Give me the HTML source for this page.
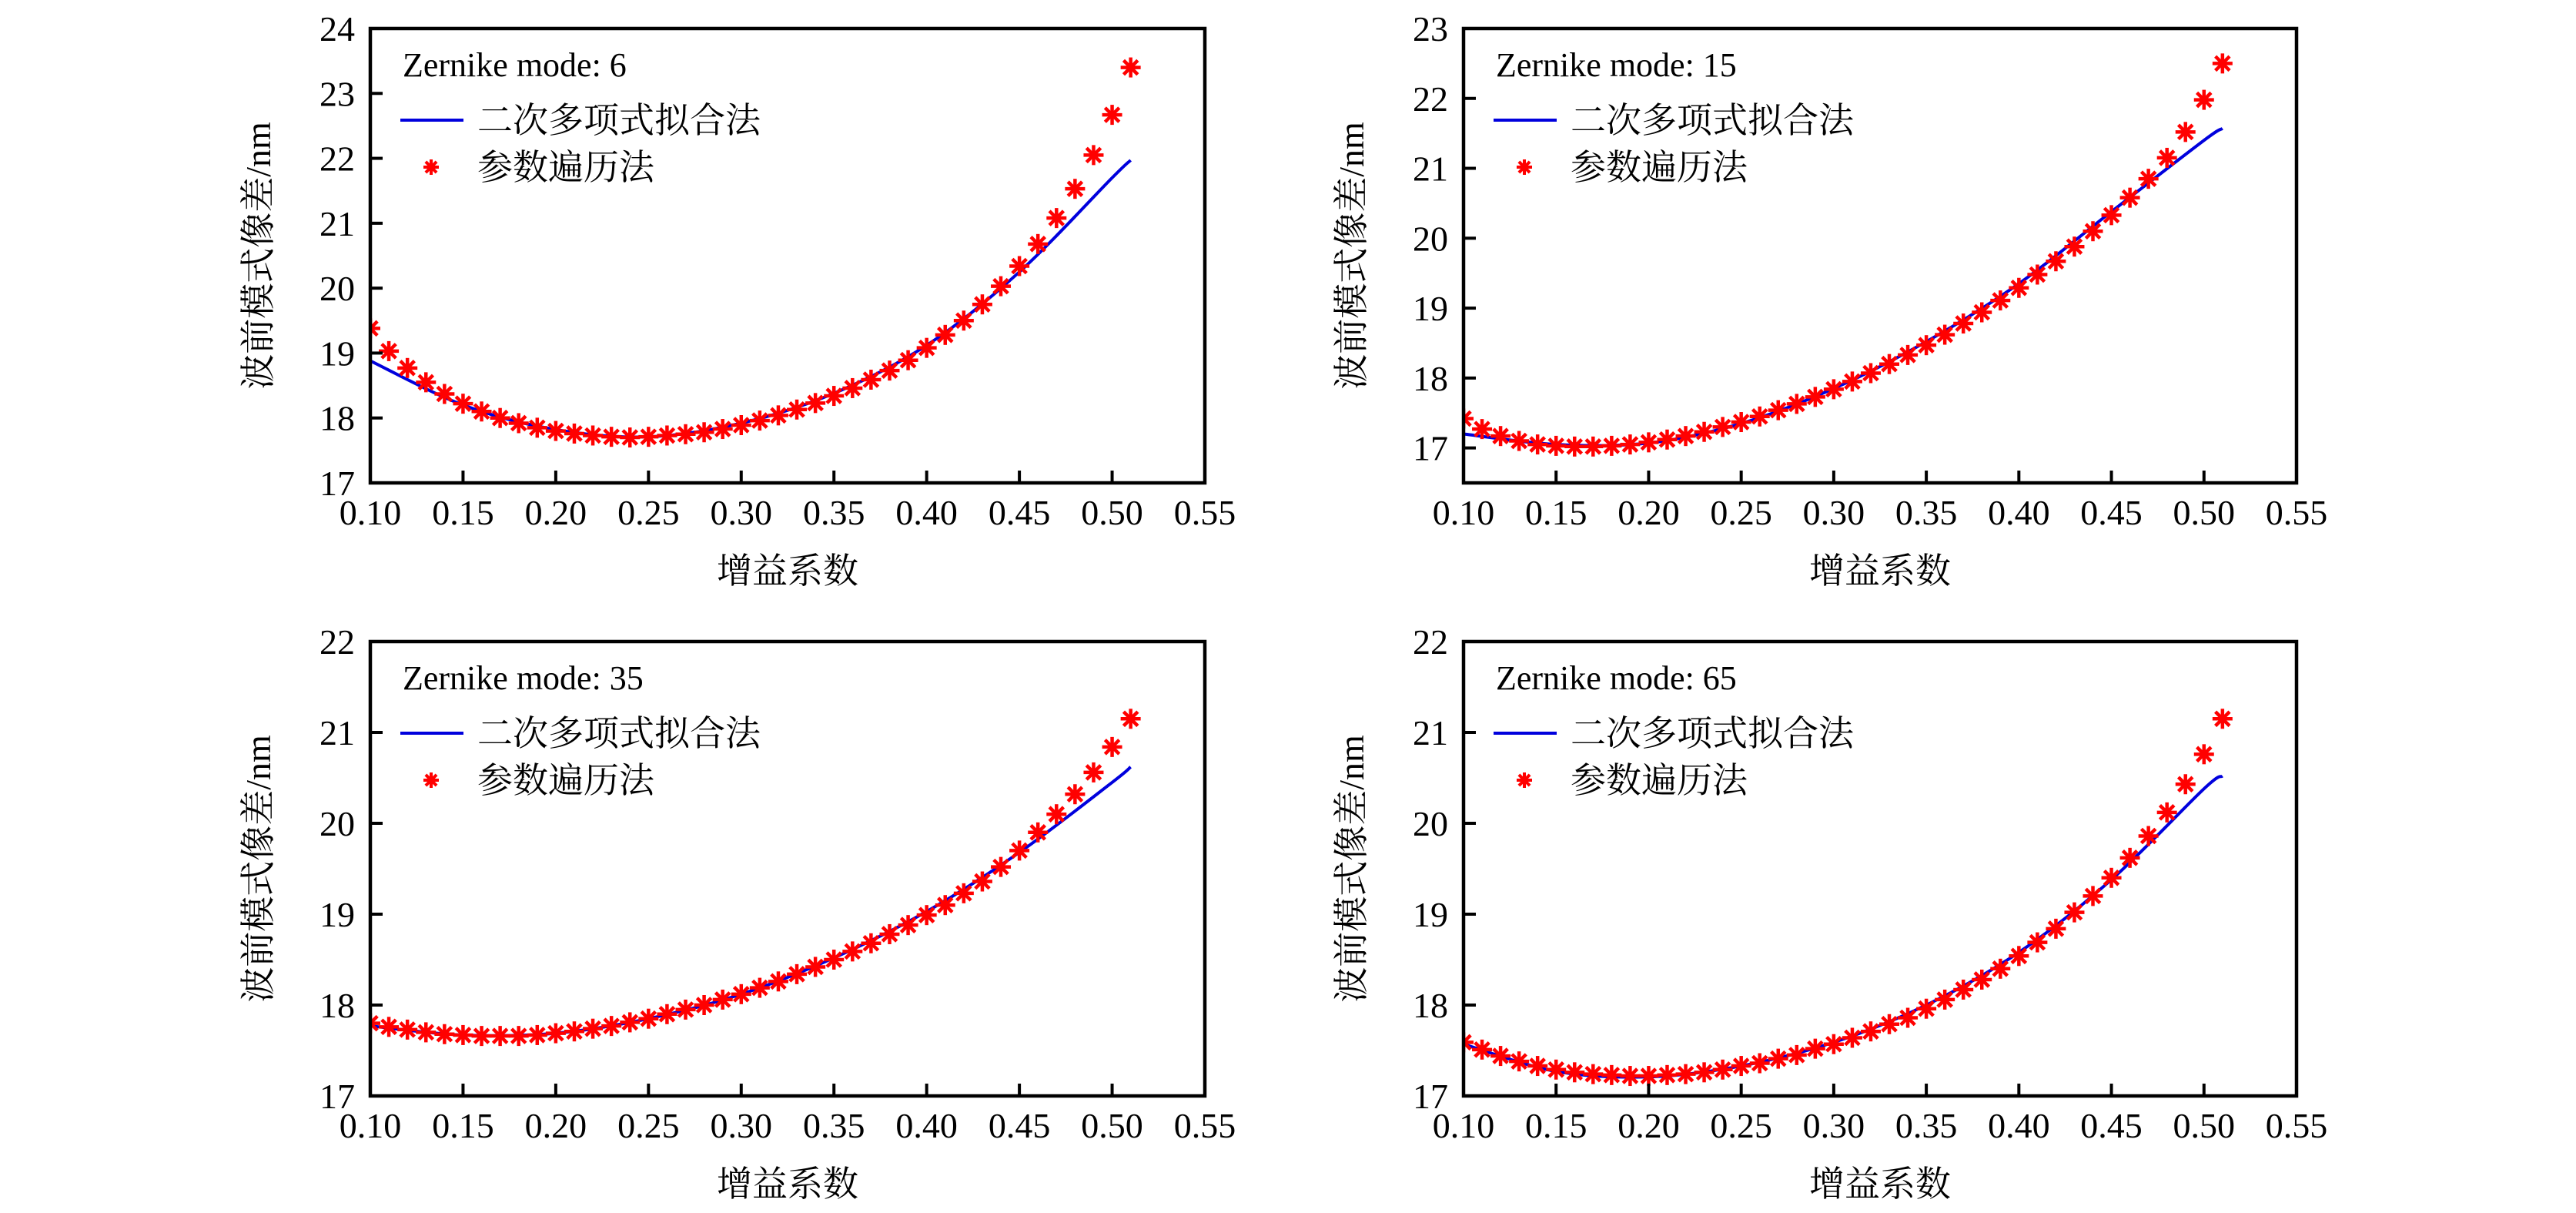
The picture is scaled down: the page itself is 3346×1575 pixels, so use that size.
<!DOCTYPE html>
<html><head><meta charset="utf-8">
<style>
html,body{margin:0;padding:0;background:#fff;}
svg{display:block;}
text{fill:#000;}
</style></head>
<body>
<svg id="fig" width="3346" height="1575" viewBox="0 0 3346 1575" xmlns="http://www.w3.org/2000/svg"></svg>
<script>
// ---- data ----
const xStars = [0.10,0.11,0.12,0.13,0.14,0.15,0.16,0.17,0.18,0.19,0.20,0.21,0.22,0.23,0.24,0.25,0.26,0.27,0.28,0.29,0.30,0.31,0.32,0.33,0.34,0.35,0.36,0.37,0.38,0.39,0.40,0.41,0.42,0.43,0.44,0.45,0.46,0.47,0.48,0.49,0.50,0.51];
const xFit = [0.10,0.15,0.20,0.25,0.30,0.35,0.40,0.45,0.50,0.51];
const xTickLabels = ["0.10","0.15","0.20","0.25","0.30","0.35","0.40","0.45","0.50","0.55"];
const modeLabels = ["6","15","35","65"];

const stars6 = [19.38,19.03,18.77,18.55,18.37,18.22,18.10,18.00,17.92,17.85,17.80,17.76,17.73,17.71,17.70,17.71,17.73,17.75,17.78,17.83,17.89,17.96,18.04,18.13,18.23,18.34,18.46,18.59,18.73,18.89,19.08,19.28,19.50,19.75,20.03,20.34,20.68,21.08,21.53,22.05,22.67,23.40];
const fit6 = [18.88,18.20,17.82,17.71,17.92,18.38,19.12,20.25,21.70,21.97];
const stars15 = [17.42,17.27,17.17,17.10,17.05,17.03,17.02,17.02,17.03,17.05,17.08,17.12,17.17,17.23,17.30,17.37,17.45,17.54,17.63,17.73,17.84,17.95,18.07,18.20,18.33,18.47,18.62,18.78,18.94,19.11,19.29,19.48,19.67,19.88,20.10,20.33,20.58,20.85,21.15,21.52,21.98,22.50];
const fit15 = [17.20,17.05,17.07,17.35,17.85,18.52,19.35,20.38,21.40,21.57];
const stars35 = [17.80,17.76,17.73,17.70,17.68,17.67,17.66,17.66,17.66,17.67,17.69,17.71,17.74,17.77,17.81,17.85,17.90,17.95,18.00,18.06,18.12,18.19,18.26,18.34,18.42,18.50,18.59,18.68,18.78,18.88,18.99,19.10,19.23,19.36,19.52,19.70,19.90,20.10,20.32,20.56,20.84,21.15];
const fit35 = [17.77,17.67,17.69,17.85,18.12,18.52,19.03,19.68,20.45,20.62];
const stars65 = [17.59,17.51,17.44,17.38,17.33,17.29,17.26,17.24,17.23,17.22,17.22,17.23,17.24,17.26,17.29,17.33,17.36,17.41,17.45,17.52,17.57,17.64,17.71,17.79,17.86,17.96,18.06,18.17,18.28,18.40,18.54,18.69,18.84,19.02,19.20,19.40,19.62,19.86,20.12,20.43,20.76,21.15];
const fit65 = [17.57,17.27,17.21,17.33,17.59,18.00,18.58,19.38,20.38,20.52];
const yTicks6 = [17,18,19,20,21,22,23,24];
const yTicks15 = [17,18,19,20,21,22,23];
const yTicks35 = [17,18,19,20,21,22];
const yTicks65 = [17,18,19,20,21,22];

const NS='http://www.w3.org/2000/svg';
const svg=document.getElementById('fig');
function el(tag,attrs,parent){const e=document.createElementNS(NS,tag);for(const k in attrs)e.setAttribute(k,attrs[k]);(parent||svg).appendChild(e);return e;}
const SERIF='"Liberation Serif","Noto Serif CJK SC",serif';
const CJK='"Liberation Serif","Noto Serif CJK SC","Noto Sans CJK SC",serif';

function star(g,cx,cy,r,sw){
  const s=el('g',{},g);
  
  
  for(let i=0;i<4;i++){const a=Math.PI*i/4;
    el('line',{x1:cx-r*Math.cos(a),y1:cy-r*Math.sin(a),x2:cx+r*Math.cos(a),y2:cy+r*Math.sin(a),stroke:'#f00','stroke-width':sw,'stroke-linecap':'butt'},s);}
}

function panel(idx,L,R,T,B,ymin,ymax,yTicks,stars,fit){
  const g=el('g',{});
  
  
  const xs=v=>L+(v-0.10)/(0.55-0.10)*(R-L);
  const ys=v=>B-(v-ymin)/(ymax-ymin)*(B-T);
  // fit curve (catmull-rom)
  const pts=xFit.map((x,i)=>[xs(x),ys(fit[i])]);
  let d='M'+pts[0][0]+','+pts[0][1];
  for(let i=0;i<pts.length-1;i++){
    const p0=pts[Math.max(0,i-1)],p1=pts[i],p2=pts[i+1],p3=pts[Math.min(pts.length-1,i+2)];
    const c1=[p1[0]+(p2[0]-p0[0])/6,p1[1]+(p2[1]-p0[1])/6];
    const c2=[p2[0]-(p3[0]-p1[0])/6,p2[1]-(p3[1]-p1[1])/6];
    d+=' C'+c1[0]+','+c1[1]+' '+c2[0]+','+c2[1]+' '+p2[0]+','+p2[1];
  }
  const clip=el('clipPath',{id:'clip'+idx},g);
  el('rect',{x:L,y:T,width:R-L,height:B-T},clip);
  const fitPath=el('path',{d:d,fill:'none',stroke:'#0000dd','stroke-width':4,'clip-path':'url(#clip'+idx+')'},g);
  
  
  const sg=el('g',{'clip-path':'url(#clip'+idx+')'},g);
  
  
  xStars.forEach((x,i)=>star(sg,xs(x),ys(stars[i]),13,4.5));
  // frame
  const fr=el('rect',{x:L,y:T,width:R-L,height:B-T,fill:'none',stroke:'#000','stroke-width':4.5},g);
  
  
  // x ticks
  xTickLabels.forEach((lab,i)=>{
    const v=parseFloat(lab),x=xs(v);
    if(i>0&&i<xTickLabels.length-1) el('line',{x1:x,y1:B,x2:x,y2:B-16,stroke:'#000','stroke-width':4},g);
    const t=el('text',{x:x,y:B+54,'font-family':SERIF,'font-size':46,'text-anchor':'middle'},g);
    t.textContent=lab;
    
    
  });
  yTicks.forEach(v=>{
    const y=ys(v);
    if(y>T+3&&y<B-3) el('line',{x1:L,y1:y,x2:L+16,y2:y,stroke:'#000','stroke-width':4},g);
    const t=el('text',{x:L-20,y:y+16,'font-family':SERIF,'font-size':46,'text-anchor':'end'},g);
    t.textContent=String(v);
    
    
  });
  // axis titles
  const xt=el('text',{x:(L+R)/2,y:B+130,'font-family':CJK,'font-size':46,'text-anchor':'middle'},g);
  xt.textContent='增益系数';
  
  
  const cy=(T+B)/2;
  const yt=el('text',{x:0,y:0,'font-family':CJK,'font-size':46,'text-anchor':'middle',transform:'translate('+(L-130)+','+cy+') rotate(-90)'},g);
  yt.textContent='波前模式像差/nm';
  
  
  // legend
  const lg=el('g',{},g);
  
  
  const zt=el('text',{x:L+42,y:T+62,'font-family':SERIF,'font-size':44},lg);
  zt.textContent='Zernike mode: '+modeLabels[idx];
  
  
  el('line',{x1:L+39,y1:T+119,x2:L+121,y2:T+119,stroke:'#0000dd','stroke-width':4},lg);
  const t1=el('text',{x:L+139,y:T+135,'font-family':CJK,'font-size':46},lg);
  t1.textContent='二次多项式拟合法';
  
  
  star(lg,L+79,T+180,10,4);
  const t2=el('text',{x:L+139,y:T+196,'font-family':CJK,'font-size':46},lg);
  t2.textContent='参数遍历法';
  
  
}

panel(0,481,1565,37,627,17,24,yTicks6,stars6,fit6);
panel(1,1901,2983,37,627,16.5,23,yTicks15,stars15,fit15);
panel(2,481,1565,833,1423,17,22,yTicks35,stars35,fit35);
panel(3,1901,2983,833,1423,17,22,yTicks65,stars65,fit65);
</script>
</body></html>
